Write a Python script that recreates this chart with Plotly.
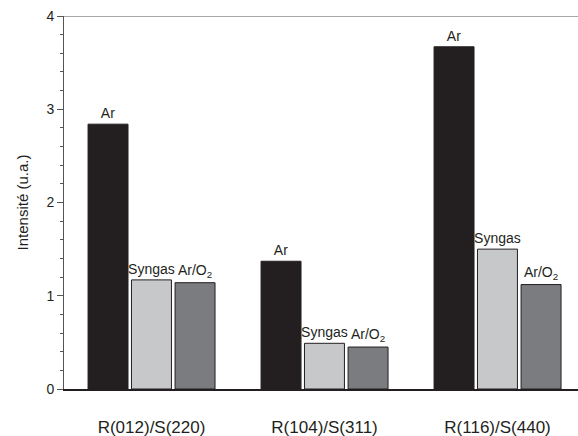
import plotly.graph_objects as go

categories = ["R(012)/S(220)", "R(104)/S(311)", "R(116)/S(440)"]
ar = [2.84, 1.37, 3.67]
syngas = [1.17, 0.49, 1.50]
ar_o2 = [1.14, 0.45, 1.12]
series_names = ["Ar", "Syngas", "Ar/O<sub>2</sub>"]

xpos = list(range(len(categories)))
w = 0.231
offsets = [-0.367, -0.116, 0.136]
colors = ["#231f20", "#c7c8ca", "#7b7c7f"]
FONT = "Arial"

fig = go.Figure()
for vals, name, off, col in zip([ar, syngas, ar_o2], series_names, offsets, colors):
    fig.add_bar(
        x=xpos, y=vals, width=w, offset=off,
        marker=dict(color=col, line=dict(color="#231f20", width=1)),
        text=[name] * len(vals), textposition="outside", constraintext="none",
        cliponaxis=False,
        textfont=dict(family=FONT, size=14, color="#231f20"),
        showlegend=False,
    )

fig.add_shape(type="line", xref="paper", yref="y", x0=0, x1=1, y0=4, y1=4,
              line=dict(color="#555555", width=1))

fig.update_layout(
    width=578, height=436,
    margin=dict(l=64, r=0, t=16, b=47),
    plot_bgcolor="white", paper_bgcolor="white",
    font=dict(family=FONT, size=14, color="#231f20"),
    barmode="overlay",
    xaxis=dict(
        range=[-0.506, 2.465], tickmode="array", tickvals=xpos, ticktext=categories,
        showline=True, linecolor="#231f20", linewidth=2, ticks="", showgrid=False,
        zeroline=False, tickfont=dict(family=FONT, size=17), ticklabelstandoff=22,
    ),
    yaxis=dict(
        range=[0, 4], tickvals=[0, 1, 2, 3, 4], showline=True, linecolor="#555555",
        linewidth=1, ticks="outside", ticklen=6, tickcolor="#555555", showgrid=False,
        zeroline=False, tickfont=dict(family=FONT, size=14),
        title=dict(text="Intensité (u.a.)", font=dict(family=FONT, size=15), standoff=14),
        minor=dict(dtick=0.2, ticks="outside", ticklen=3, tickcolor="#555555"),
    ),
)

fig.write_html("out.html", config={"displayModeBar": False},
               post_script="document.body.style.margin='0';")
